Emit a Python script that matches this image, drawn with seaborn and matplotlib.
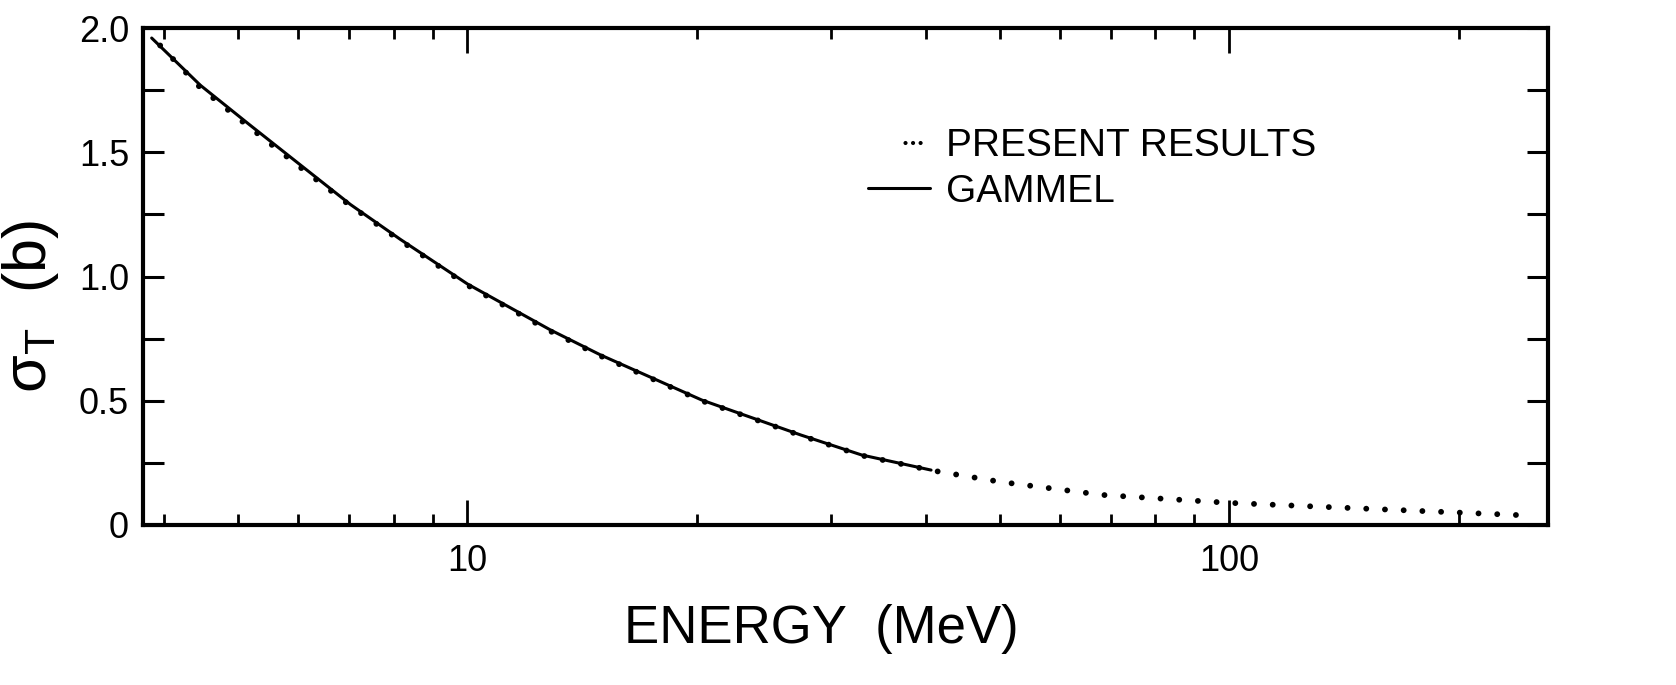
import matplotlib
matplotlib.use("Agg")
import matplotlib.pyplot as plt
import matplotlib.ticker as mticker
from matplotlib.lines import Line2D
import pandas as pd
import seaborn as sns

# values
energy_gammel = [3.85, 4.46, 5.18, 6.03, 7.02, 8.16, 10.0, 12.85, 14.96, 20.3, 27.4, 32.9, 40.6]
sigma_gammel = [1.96, 1.77, 1.61, 1.45, 1.29, 1.15, 0.97, 0.785, 0.684, 0.503, 0.362, 0.282, 0.221]
energy_present = [3.95, 4.46, 5.18, 6.03, 7.02, 8.16, 10.0, 12.85, 14.96, 20.3, 27.4, 32.9,
                  40.6, 50.2, 68.1, 100.0, 145.0, 239.0]
sigma_present = [1.93, 1.76, 1.60, 1.44, 1.285, 1.145, 0.965, 0.78, 0.68, 0.50, 0.36, 0.28,
                 0.22, 0.173, 0.121, 0.089, 0.068, 0.040]
major_x = [10, 100]
major_x_labels = ["10", "100"]
minor_x = [4, 5, 6, 7, 8, 9, 20, 30, 40, 50, 60, 70, 80, 90, 200]
major_y = [0, 0.5, 1.0, 1.5, 2.0]
major_y_labels = ["0", "0.5", "1.0", "1.5", "2.0"]
minor_y = [0.25, 0.75, 1.25, 1.75]

sns.set_style("white")
plt.rcParams["font.family"] = ["Liberation Sans", "DejaVu Sans"]
plt.rcParams["mathtext.fontset"] = "custom"
plt.rcParams["mathtext.rm"] = "Liberation Sans"
plt.rcParams["mathtext.sf"] = "Liberation Sans"
for key in ["text.color", "axes.labelcolor", "xtick.color", "ytick.color"]:
    plt.rcParams[key] = "black"

df_g = pd.DataFrame({"energy": energy_gammel, "sigma": sigma_gammel})
df_p = pd.DataFrame({"energy": energy_present, "sigma": sigma_present})

fig = plt.figure(figsize=(16.76, 6.85), dpi=100)
ax = fig.add_axes([0.0853, 0.2336, 0.8383, 0.7254])

sns.lineplot(data=df_p, x="energy", y="sigma", ax=ax, color="black", lw=4.2,
             linestyle=(0, (0.01, 3.2)), dash_capstyle="round", legend=False)
sns.lineplot(data=df_g, x="energy", y="sigma", ax=ax, color="black", lw=2.2,
             legend=False)

ax.set_xscale("log")
ax.set_xlim(3.75, 262)
ax.set_ylim(0, 2.0)

ax.xaxis.set_major_locator(mticker.FixedLocator(major_x))
ax.xaxis.set_major_formatter(mticker.FixedFormatter(major_x_labels))
ax.xaxis.set_minor_locator(mticker.FixedLocator(minor_x))
ax.xaxis.set_minor_formatter(mticker.NullFormatter())
ax.yaxis.set_major_locator(mticker.FixedLocator(major_y))
ax.yaxis.set_major_formatter(mticker.FixedFormatter(major_y_labels))
ax.yaxis.set_minor_locator(mticker.FixedLocator(minor_y))

ax.tick_params(axis="x", which="major", direction="in", length=18, width=2,
               top=True, bottom=True, labelsize=26, pad=14, colors="black")
ax.tick_params(axis="x", which="minor", direction="in", length=8, width=2,
               top=True, bottom=True, colors="black")
ax.tick_params(axis="y", which="both", direction="in", length=15, width=2.2,
               left=True, right=True, labelsize=26, pad=10, colors="black")

for s in ax.spines.values():
    s.set_visible(True)
    s.set_linewidth(3)
    s.set_color("black")

ax.set_xlabel("ENERGY  (MeV)", fontsize=38, color="black")
ax.xaxis.set_label_coords(0.483, -0.16)
ax.set_ylabel("σ$_\\mathsf{T}$  (b)", fontsize=44, color="black")
ax.yaxis.set_label_coords(-0.058, 0.44)

# legend keys: three close dots, short solid dash
h_present = Line2D([], [], color="black", lw=3, dash_capstyle="round",
                   linestyle=(0.01, (0.01, 9.0, 0.01, 1.8, 0.01, 1.8, 0.01, 40)))
h_gammel = Line2D([], [], color="black", lw=2.2)
leg = ax.legend([h_present, h_gammel], ["PRESENT RESULTS", "GAMMEL"],
                loc="upper left", bbox_to_anchor=(0.505, 0.83), frameon=False,
                fontsize=28, handlelength=1.6, handletextpad=0.4, labelspacing=0.25,
                borderaxespad=0)
for t in leg.get_texts():
    t.set_color("black")

fig.savefig("out.png", dpi=100)
